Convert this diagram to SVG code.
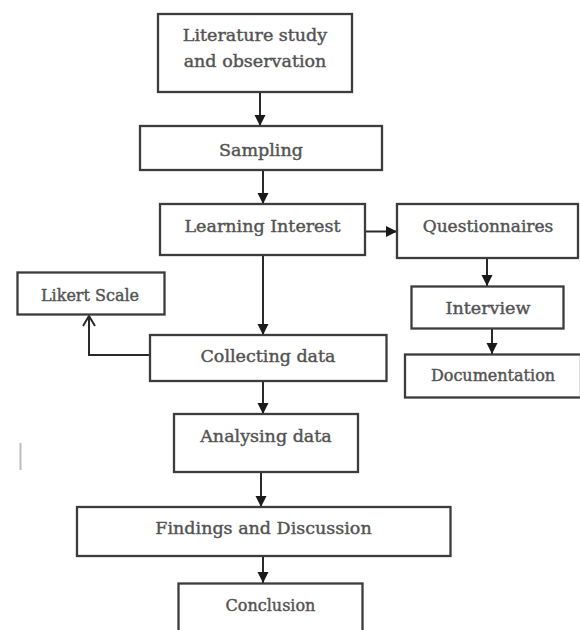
<svg xmlns="http://www.w3.org/2000/svg" width="580" height="630" viewBox="0 0 580 630">
<style>
.box{fill:#fff;stroke:#3c3c3c;stroke-width:2.3}
.t{font-family:"DejaVu Serif","Liberation Serif",serif;font-size:17.5px;fill:#505050;stroke:#5a5a5a;stroke-width:0.45;text-anchor:middle}
.s{font-size:16px}
.c{fill:none;stroke:#2a2a2a;stroke-width:2}
</style>
<defs>
<marker id="ah" markerUnits="userSpaceOnUse" markerWidth="12" markerHeight="12" viewBox="0 0 12 12" refX="11" refY="6" orient="auto">
<path d="M0,0.5 L11,6 L0,11.5 Z" fill="#1a1a1a"/>
</marker>
<marker id="oa" markerUnits="userSpaceOnUse" markerWidth="14" markerHeight="14" viewBox="0 0 14 14" refX="12" refY="7" orient="auto">
<path d="M2,1 L12,7 L2,13" fill="none" stroke="#2a2a2a" stroke-width="2"/>
</marker>
</defs>
<rect width="580" height="630" fill="#fff"/>
<line x1="20.5" y1="443" x2="20.5" y2="470" stroke="#bdbdbd" stroke-width="2"/>
<g id="connectors">
<line class="c" x1="260" y1="92" x2="260" y2="126" marker-end="url(#ah)"/>
<line class="c" x1="263" y1="170" x2="263" y2="204" marker-end="url(#ah)"/>
<line class="c" x1="365" y1="231.5" x2="397" y2="231.5" marker-end="url(#ah)"/>
<line class="c" x1="487" y1="258" x2="487" y2="286" marker-end="url(#ah)"/>
<line class="c" x1="492" y1="328" x2="492" y2="354" marker-end="url(#ah)"/>
<line class="c" x1="263" y1="255" x2="263" y2="335" marker-end="url(#ah)"/>
<polyline class="c" points="150,355 89,355 89,316" marker-end="url(#oa)"/>
<line class="c" x1="263" y1="381" x2="263" y2="414" marker-end="url(#ah)"/>
<line class="c" x1="261" y1="472" x2="261" y2="507" marker-end="url(#ah)"/>
<line class="c" x1="263" y1="556" x2="263" y2="583" marker-end="url(#ah)"/>
</g>
<g id="literature">
<rect class="box" x="158" y="14" width="194" height="78"/>
<text class="t" x="255" y="41">Literature study</text>
<text class="t" x="255" y="67">and observation</text>
</g>
<g id="sampling">
<rect class="box" x="140" y="126" width="242" height="44"/>
<text class="t" x="261" y="156">Sampling</text>
</g>
<g id="learning">
<rect class="box" x="160" y="204" width="205" height="51"/>
<text class="t" x="262.5" y="232">Learning Interest</text>
</g>
<g id="questionnaires">
<rect class="box" x="397" y="204" width="181" height="54"/>
<text class="t" x="488" y="232" style="font-size:17px">Questionnaires</text>
</g>
<g id="interview">
<rect class="box" x="411.5" y="286.5" width="152" height="42"/>
<text class="t" x="488" y="314">Interview</text>
</g>
<g id="documentation">
<rect class="box" x="405" y="354.5" width="176" height="43"/>
<text class="t s" x="493" y="381">Documentation</text>
</g>
<g id="likert">
<rect class="box" x="17.5" y="272.5" width="147" height="42"/>
<text class="t s" x="90" y="301">Likert Scale</text>
</g>
<g id="collecting">
<rect class="box" x="150" y="335" width="236.5" height="46"/>
<text class="t" x="268" y="362">Collecting data</text>
</g>
<g id="analysing">
<rect class="box" x="174" y="414" width="184" height="58"/>
<text class="t" x="266" y="442">Analysing data</text>
</g>
<g id="findings">
<rect class="box" x="77" y="507" width="373.5" height="49"/>
<text class="t" x="263.5" y="534">Findings and Discussion</text>
</g>
<g id="conclusion">
<rect class="box" x="178.5" y="583.5" width="184" height="50"/>
<text class="t s" x="270.5" y="611">Conclusion</text>
</g>
</svg>
